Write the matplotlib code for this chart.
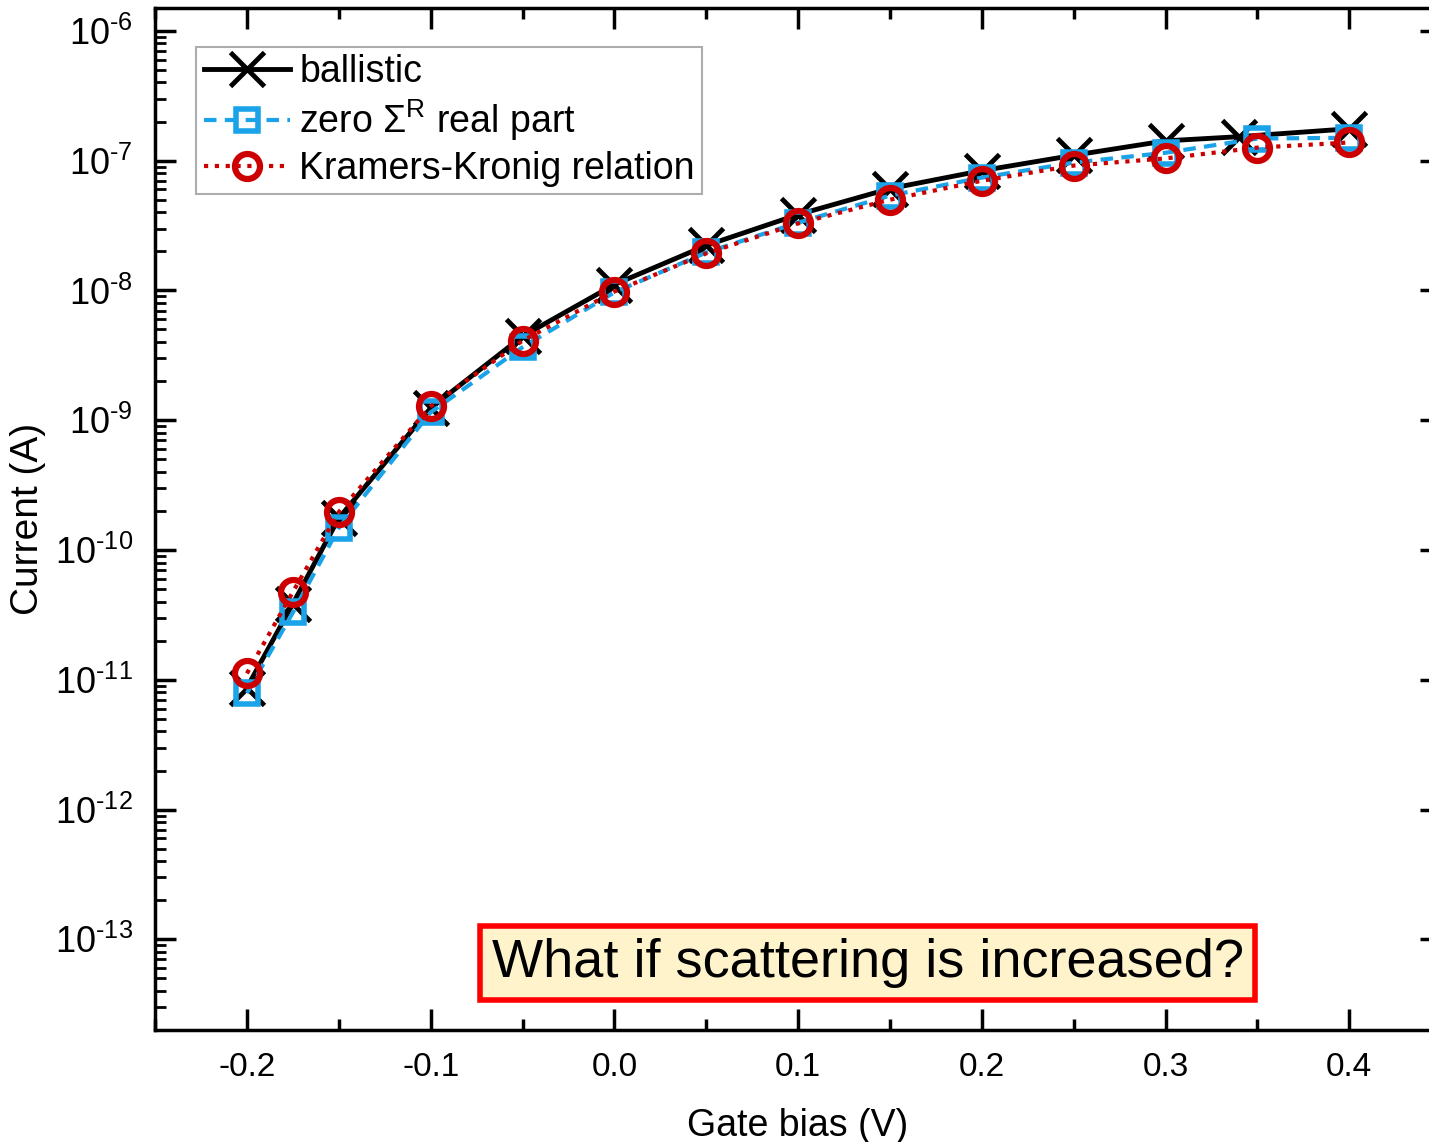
import matplotlib.pyplot as plt
from matplotlib.ticker import LogLocator, MultipleLocator, NullFormatter, FuncFormatter
import numpy as np

plt.rcParams['font.family'] = ['Liberation Sans', 'DejaVu Sans']
plt.rcParams['mathtext.fontset'] = 'custom'
plt.rcParams['mathtext.rm'] = 'Liberation Sans'
plt.rcParams['mathtext.it'] = 'Liberation Sans'
plt.rcParams['axes.unicode_minus'] = False

# data
bias = [-0.2, -0.175, -0.15, -0.1, -0.05, 0.0, 0.05, 0.1, 0.15, 0.2, 0.25, 0.3, 0.35, 0.4]
bias_ballistic = [-0.2, -0.175, -0.15, -0.1, -0.05, 0.0, 0.05, 0.1, 0.15, 0.2, 0.25, 0.3, 0.34, 0.4]
i_ballistic = [8.7e-12, 3.85e-11, 1.76e-10, 1.24e-9, 4.43e-9, 1.11e-8, 2.22e-8, 3.84e-8,
               6.09e-8, 8.37e-8, 1.1e-7, 1.42e-7, 1.53e-7, 1.76e-7]
i_zero_re = [7.9e-12, 3.3e-11, 1.48e-10, 1.15e-9, 3.65e-9, 9.66e-9, 1.96e-8, 3.33e-8,
             5.38e-8, 7.4e-8, 9.66e-8, 1.15e-7, 1.48e-7, 1.5e-7]
i_kk = [1.12e-11, 4.75e-11, 1.96e-10, 1.28e-9, 4.1e-9, 9.8e-9, 1.93e-8, 3.28e-8,
        5.0e-8, 7.0e-8, 9.16e-8, 1.04e-7, 1.26e-7, 1.38e-7]
xtick_vals = [-0.2, -0.1, 0.0, 0.1, 0.2, 0.3, 0.4]
xtick_text = ['-0.2', '-0.1', '0.0', '0.1', '0.2', '0.3', '0.4']
ytick_exp = [-13, -12, -11, -10, -9, -8, -7, -6]

fig = plt.figure(figsize=(14.29, 11.42), dpi=100)
ax = fig.add_axes([0.1085, 0.098, 0.9, 0.895])

blue = '#1AA3E8'
red = '#CC0000'

ax.plot(bias_ballistic, i_ballistic, color='black', lw=3.5, marker='x', ms=24, mew=3.5,
        label='ballistic', zorder=3)
ax.plot(bias, i_zero_re, color=blue, lw=3, ls=(0, (3, 2)), marker='s', ms=16, mew=4,
        mfc='none', mec=blue, label=r'zero $\Sigma^{\rm R}$ real part', zorder=4)
ax.plot(bias, i_kk, color=red, lw=3, ls=(0, (1, 1.6)), marker='o', ms=18, mew=4.5,
        mfc='none', mec=red, label='Kramers-Kronig relation', zorder=5)

ax.set_yscale('log')
ax.set_xlim(-0.25, 0.45)
ax.set_ylim(2e-14, 1.5e-6)

ax.xaxis.set_minor_locator(MultipleLocator(0.05))
ax.set_xticks(xtick_vals)
ax.set_xticklabels(xtick_text)
ax.set_yticks([10.0 ** e for e in ytick_exp])
ax.set_yticklabels([r'10$^{\text{%d}}$' % e for e in ytick_exp])
ax.yaxis.set_minor_locator(LogLocator(base=10, subs=range(2, 10), numticks=20))
ax.yaxis.set_minor_formatter(NullFormatter())

ax.tick_params(axis='both', which='major', direction='in', length=15, width=2.5,
               labelsize=24, top=True, right=True, pad=16)
ax.tick_params(axis='x', which='minor', direction='in', length=8, width=2.5, top=True)
ax.tick_params(axis='y', which='minor', direction='in', length=8, width=2, right=False)
ax.tick_params(axis='y', which='major', labelsize=26, pad=16)

for s in ax.spines.values():
    s.set_linewidth(2.5)

ax.set_xlabel('Gate bias (V)', fontsize=27, labelpad=18)
ax.set_ylabel('Current (A)', fontsize=28, labelpad=6)

leg = ax.legend(loc='upper left', bbox_to_anchor=(0.032, 0.962), fontsize=27, frameon=True,
                fancybox=False, edgecolor='#999999', handlelength=2.3, handletextpad=0.25,
                borderpad=0.2, labelspacing=0.2, borderaxespad=0)
leg.get_frame().set_linewidth(1.5)

ax.text(0.554, 0.0656, 'What if scattering is increased?', transform=ax.transAxes,
        fontsize=39, ha='center', va='center',
        bbox=dict(boxstyle='square,pad=0.22', fc='#FFF3CC', ec='#FF0000', lw=4))

fig.savefig('out.png', dpi=100)
